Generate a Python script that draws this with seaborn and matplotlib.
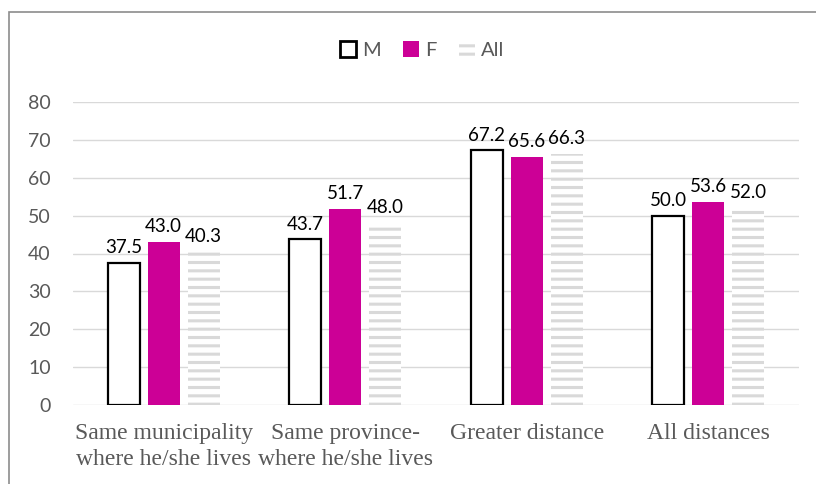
import pandas as pd
import seaborn as sns
import matplotlib.pyplot as plt
from matplotlib.patches import Rectangle, Patch

categories = ["Same municipality\nwhere he/she lives", "Same province-\nwhere he/she lives",
              "Greater distance", "All distances"]
groups = ["M", "F", "All"]
m_values = [37.5, 43.7, 67.2, 50.0]
f_values = [43.0, 51.7, 65.6, 53.6]
all_values = [40.3, 48.0, 66.3, 52.0]

df = pd.DataFrame({
    "category": categories * 3,
    "group": ["M"] * 4 + ["F"] * 4 + ["All"] * 4,
    "value": m_values + f_values + all_values,
})

sns.set_theme(style="white")
plt.rcParams["font.family"] = ["Lato", "DejaVu Sans"]
plt.rcParams["hatch.linewidth"] = 2.2

magenta = "#cc0096"
grey_txt = "#595959"
grid_col = "#d9d9d9"

fig = plt.figure(figsize=(8.16, 4.84), dpi=100)
ax = fig.add_axes([73 / 816, 79 / 484, 726 / 816, 303 / 484])
sns.barplot(data=df, x="category", y="value", hue="group", hue_order=groups, order=categories,
            palette=["white", magenta, "white"], width=0.66, gap=0.2, errorbar=None,
            legend=False, ax=ax)

m_bars, f_bars, all_bars = ax.containers
for b in m_bars:
    b.set_facecolor("white")
    b.set_edgecolor("black")
    b.set_linewidth(1.6)
for b in f_bars:
    b.set_facecolor(magenta)
    b.set_edgecolor("none")
for b in all_bars:
    b.set_facecolor("white")
    b.set_edgecolor(grid_col)
    b.set_hatch("--")
    b.set_linewidth(0)

for c in ax.containers:
    ax.bar_label(c, fmt="%.1f", padding=5, fontsize=13.5, color="black")

ax.set_ylim(0, 80)
ax.set_yticks(range(0, 81, 10))
ax.yaxis.grid(True, color=grid_col, linewidth=1)
ax.set_axisbelow(True)
for s in ax.spines.values():
    s.set_visible(False)
ax.set_xlabel("")
ax.set_ylabel("")
ax.tick_params(axis="y", labelsize=14, labelcolor=grey_txt, pad=16, length=0)
ax.tick_params(axis="x", pad=13, length=0)
for lbl in ax.get_xticklabels():
    lbl.set_fontfamily("Liberation Serif")
    lbl.set_fontsize(17)
    lbl.set_color(grey_txt)
    lbl.set_linespacing(1.3)

handles = [
    Patch(facecolor="white", edgecolor="black", linewidth=2),
    Patch(facecolor=magenta, edgecolor="none"),
    Patch(facecolor="white", edgecolor=grid_col, hatch="--", linewidth=0),
]
fig.legend(handles, groups, loc="center", bbox_to_anchor=(422 / 816, 1 - 50 / 484), ncol=3,
           frameon=False, fontsize=14.5, handlelength=0.8, handleheight=0.8, handletextpad=0.3,
           columnspacing=1.1, labelcolor=grey_txt)

fig.patches.append(Rectangle((9 / 816, -0.1), 1.2, 1.1 - 12 / 484, transform=fig.transFigure,
                             fill=False, edgecolor="#8c8c8c", linewidth=1.2))

fig.savefig("out.png", dpi=100)
